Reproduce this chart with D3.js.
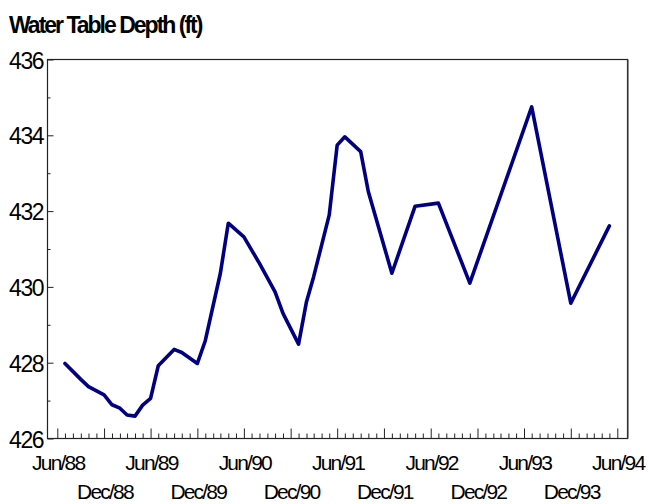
<!DOCTYPE html>
<html><head><meta charset="utf-8">
<script src="https://cdn.jsdelivr.net/npm/d3@7/dist/d3.min.js"></script>
<style>
body{margin:0;background:#fff;}
svg{display:block;font-family:"Liberation Sans",Arial,sans-serif;}
</style></head>
<body><svg id="c" width="649" height="504"></svg>
<script>
// Observation months (YYYY-MM) and water table depth (ft)
const dates = ["1988-07","1988-09","1988-10","1988-12","1989-01","1989-02","1989-03","1989-04","1989-05","1989-06",
  "1989-07","1989-09","1989-10","1989-12","1990-01","1990-03","1990-04","1990-06","1990-08","1990-10","1990-11",
  "1991-01","1991-02","1991-03","1991-05","1991-06","1991-07","1991-09","1991-10","1992-01","1992-04","1992-07",
  "1992-11","1993-07","1993-12","1994-05"];
const depths = [427.98,427.56,427.37,427.15,426.89,426.80,426.62,426.59,426.88,427.06,
  427.92,428.35,428.27,427.98,428.58,430.36,431.68,431.32,430.62,429.87,429.30,
  428.49,429.61,430.27,431.90,433.74,433.96,433.57,432.51,430.36,432.13,432.21,
  430.10,434.75,429.57,431.61];
const yTicks = [426,428,430,432,434,436];
const junLabels = ["Jun/88","Jun/89","Jun/90","Jun/91","Jun/92","Jun/93","Jun/94"];
const decLabels = ["Dec/88","Dec/89","Dec/90","Dec/91","Dec/92","Dec/93"];
const title = "Water Table Depth (ft)";

const parse = d3.timeParse("%Y-%m");
const fmtLbl = d3.timeFormat("%b/%y");
const data = dates.map((d,i)=>({t:parse(d), v:depths[i]}));

const svg = d3.select("#c");
const L=47.5, R=627.5, T=59.5, B=438.5;

const x = d3.scaleTime().domain([parse("1988-06"), parse("1994-06")]).range([57.3, 617.3]);
const y = d3.scaleLinear().domain([426,436]).range([B, T]);

// title
svg.append("text").attr("x",9).attr("y",33)
  .attr("font-size",23).attr("font-weight","bold").attr("letter-spacing","-2")
  .attr("fill","#000").text(title);

// frame
svg.append("rect").attr("x",L).attr("y",T).attr("width",R-L).attr("height",B-T)
  .attr("fill","none").attr("stroke","#222").attr("stroke-width",1.2);
svg.append("line").attr("x1",R+0.8).attr("x2",R+0.8).attr("y1",T).attr("y2",B)
  .attr("stroke","#777").attr("stroke-width",1);

// x ticks (monthly minor, Jun/Dec major), pointing inward
const months = d3.timeMonth.range(parse("1988-06"), d3.timeMonth.offset(parse("1994-06"),1));
const majors = months.filter(m=>m.getMonth()===5||m.getMonth()===11);
const minors = months.filter(m=>!(m.getMonth()===5||m.getMonth()===11));
function styleAxis(g){g.select(".domain").remove();g.selectAll("text").remove();
  g.selectAll("line").attr("stroke","#222").attr("stroke-width",1);}
svg.append("g").attr("transform",`translate(0,${B})`)
  .call(d3.axisBottom(x).tickValues(minors).tickSize(-5)).call(styleAxis);
svg.append("g").attr("transform",`translate(0,${B})`)
  .call(d3.axisBottom(x).tickValues(majors).tickSize(-10)).call(styleAxis);

// x labels staggered
const junSet = new Set(junLabels), decSet = new Set(decLabels);
function xl(sel, yy){
  sel.attr("x",d=>x(d)+0.9).attr("y",yy).attr("text-anchor","middle")
    .attr("font-size",21).attr("letter-spacing","-1.8")
    .text(d=>fmtLbl(d));
}
svg.append("g").selectAll("text").data(majors.filter(m=>junSet.has(fmtLbl(m)))).join("text")
  .call(xl, 470);
svg.append("g").selectAll("text").data(majors.filter(m=>decSet.has(fmtLbl(m)))).join("text")
  .call(xl, 499);

// y ticks
const yMinor = d3.range(427,436,2);
svg.append("g").attr("transform",`translate(${L},0)`)
  .call(d3.axisLeft(y).tickValues(yMinor).tickSize(-3)).call(styleAxis);
svg.append("g").attr("transform",`translate(${L},0)`)
  .call(d3.axisLeft(y).tickValues(yTicks).tickSize(-6)).call(styleAxis);
svg.append("g").selectAll("text").data(yTicks).join("text")
  .attr("x",9).attr("y",d=>y(d)+9)
  .attr("font-size",23).attr("letter-spacing","-1.4").text(d=>d);

// line
const line = d3.line().x(d=>x(d.t)).y(d=>y(d.v));
svg.append("path").datum(data).attr("d",line).attr("fill","none")
  .attr("stroke","#000080").attr("stroke-width",3.6).attr("stroke-linejoin","round").attr("stroke-linecap","round");
</script></body></html>
